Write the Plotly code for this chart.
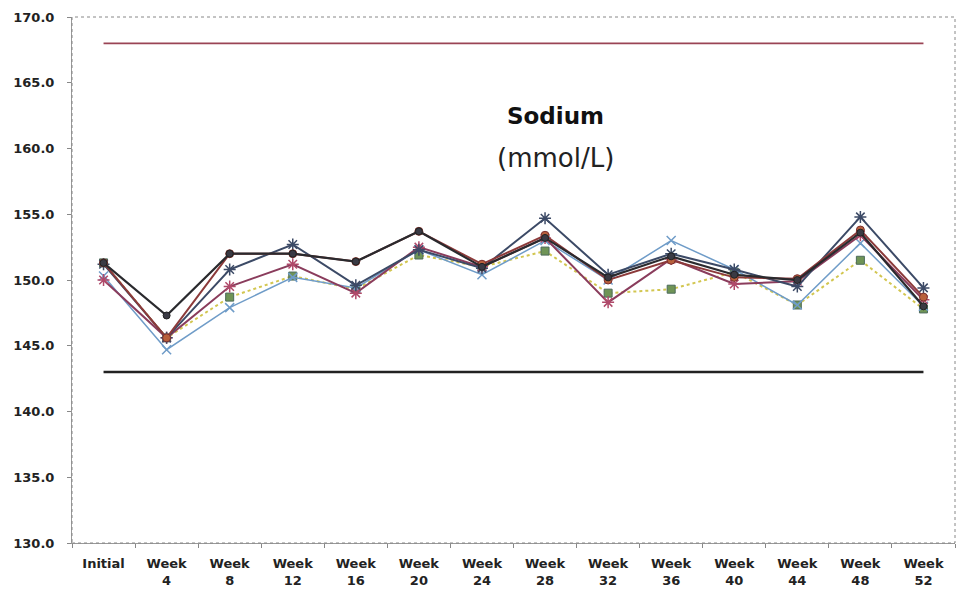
import plotly.graph_objects as go

categories = ["Initial", "Week<br>4", "Week<br>8", "Week<br>12", "Week<br>16", "Week<br>20",
              "Week<br>24", "Week<br>28", "Week<br>32", "Week<br>36", "Week<br>40",
              "Week<br>44", "Week<br>48", "Week<br>52"]

upper_limit = 168.0
lower_limit = 143.0

series_black = [151.3, 147.3, 152.0, 152.0, 151.4, 153.7, 151.0, 153.2, 150.2, 151.8, 150.4, 150.0, 153.6, 148.0]
series_brown = [151.3, 145.6, 152.0, 152.0, 151.4, 153.7, 151.2, 153.4, 150.0, 151.5, 150.2, 150.1, 153.8, 148.7]
series_slate = [151.2, 145.6, 150.8, 152.7, 149.6, 152.3, 150.9, 154.7, 150.4, 152.0, 150.8, 149.5, 154.8, 149.4]
series_lightblue = [150.3, 144.7, 147.9, 150.2, 149.4, 152.3, 150.4, 153.0, 150.0, 153.0, 150.8, 148.1, 152.8, 148.0]
series_magenta = [150.0, 145.6, 149.5, 151.2, 149.0, 152.5, 151.0, 153.2, 148.3, 151.6, 149.7, 149.9, 153.4, 148.5]
series_green = [151.3, 145.6, 148.7, 150.3, 149.3, 151.9, 151.0, 152.2, 149.0, 149.3, 150.6, 148.1, 151.5, 147.8]

fig = go.Figure()

fig.add_trace(go.Scatter(x=categories, y=[upper_limit] * len(categories), mode="lines",
                         line=dict(color="#9a4455", width=1.8), hoverinfo="skip"))
fig.add_trace(go.Scatter(x=categories, y=[lower_limit] * len(categories), mode="lines",
                         line=dict(color="#222222", width=2.5), hoverinfo="skip"))

fig.add_trace(go.Scatter(x=categories, y=series_green, mode="lines+markers",
                         line=dict(color="#d2c650", width=2, dash="dot"),
                         marker=dict(symbol="square", size=8, color="#6f9456",
                                     line=dict(color="#4c6a5a", width=1))))
fig.add_trace(go.Scatter(x=categories, y=series_lightblue, mode="lines+markers",
                         line=dict(color="#6f9cc8", width=1.5),
                         marker=dict(symbol="x-thin", size=9, color="#6f9cc8",
                                     line=dict(color="#6f9cc8", width=1.5))))
fig.add_trace(go.Scatter(x=categories, y=series_magenta, mode="lines+markers",
                         line=dict(color="#8a3c5c", width=2),
                         marker=dict(symbol="asterisk", size=10, color="#b04a6a",
                                     line=dict(color="#b04a6a", width=1.5))))
fig.add_trace(go.Scatter(x=categories, y=series_slate, mode="lines+markers",
                         line=dict(color="#3c4a66", width=2),
                         marker=dict(symbol="asterisk", size=10, color="#3c4a66",
                                     line=dict(color="#3c4a66", width=1.5))))
fig.add_trace(go.Scatter(x=categories, y=series_brown, mode="lines+markers",
                         line=dict(color="#8c3a3a", width=2),
                         marker=dict(symbol="circle", size=8, color="#b8603c",
                                     line=dict(color="#7a3030", width=1))))
fig.add_trace(go.Scatter(x=categories, y=series_black, mode="lines+markers",
                         line=dict(color="#2a2a2e", width=2.2),
                         marker=dict(symbol="circle", size=7, color="#3a3a44",
                                     line=dict(color="#222222", width=1))))

fig.add_annotation(x=0.547, y=0.812, xref="paper", yref="paper", text="<b>Sodium</b>",
                   xanchor="center", yanchor="middle", showarrow=False,
                   font=dict(family="DejaVu Sans", size=23, color="#111111"))
fig.add_annotation(x=0.547, y=0.732, xref="paper", yref="paper", text="(mmol/L)",
                   xanchor="center", yanchor="middle", showarrow=False,
                   font=dict(family="DejaVu Sans", size=26, color="#222222"))

fig.add_shape(type="rect", xref="paper", yref="paper", x0=0, y0=0, x1=1, y1=1,
              line=dict(color="#888888", width=1, dash="dot"))

fig.update_layout(
    width=956, height=591,
    margin=dict(l=72, r=1, t=17, b=48),
    paper_bgcolor="white", plot_bgcolor="white",
    showlegend=False,
    font=dict(family="DejaVu Sans", color="#222222"),
)
fig.update_xaxes(
    type="category", range=[-0.5, 13.5], autorange=False,
    showgrid=False, zeroline=False,
    showline=True, linecolor="#999999", linewidth=1,
    ticks="outside", tickson="boundaries", ticklen=4, tickcolor="#888888",
    ticklabelstandoff=8, automargin=False,
    tickfont=dict(family="DejaVu Sans", size=13, color="#222222", weight="bold"),
)
fig.update_yaxes(
    range=[130, 170], dtick=5, tickformat=".1f", showgrid=False, zeroline=False,
    showline=True, linecolor="#999999", linewidth=1,
    ticks="outside", ticklen=4, tickcolor="#888888",
    ticklabelstandoff=10, automargin=False,
    tickfont=dict(family="DejaVu Sans", size=13, color="#222222", weight="bold"),
)

post = ("document.body.style.margin='0';document.body.style.overflow='hidden';"
        "var gd=document.getElementById('{plot_id}');"
        "gd.style.width='956px';gd.style.height='591px';"
        "Plotly.relayout(gd,{width:956,height:591});")

fig.write_html("out.html", post_script=post, config={"displayModeBar": False})
